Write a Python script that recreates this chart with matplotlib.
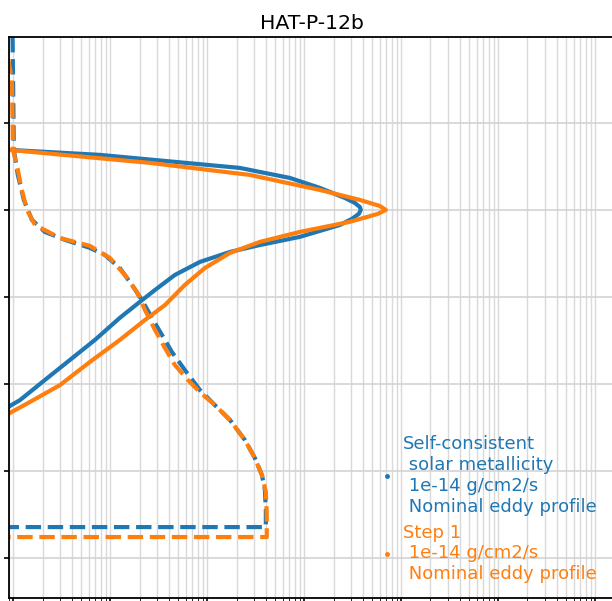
import numpy as np
import matplotlib
matplotlib.use("Agg")
import matplotlib.pyplot as plt
from matplotlib.lines import Line2D
from matplotlib.ticker import NullLocator

# haze profiles for HAT-P-12b, pressure in bar
# self-consistent, solar metallicity run
sc_prod = [0.90, 7.79, 216, 710, 1445, 2618, 3319, 3733, 3821, 3648, 3087, 2323, 899,
           348, 171, 83.7, 46.2, 28.8, 20.1, 12.5, 6.92, 3.82, 2.11, 1.17, 0.92, 0.81]
sc_prod_p = [2.04e-7, 2.33e-7, 3.29e-7, 4.29e-7, 5.58e-7, 7.28e-7, 8.31e-7, 9.24e-7,
             1.0e-6, 1.11e-6, 1.27e-6, 1.49e-6, 2.04e-6, 2.53e-6, 3.04e-6, 3.96e-6,
             5.59e-6, 8.32e-6, 1.14e-5, 1.74e-5, 3.12e-5, 5.30e-5, 9.0e-5, 1.53e-4,
             1.79e-4, 2.04e-4]
sc_num = [0.98, 1.01, 1.11, 1.28, 1.55, 2.11, 3.40, 6.15, 8.77, 12.5, 16.7, 21.1, 26.8,
          34.0, 43.1, 58.6, 83.7, 119, 171, 244, 309, 365, 392, 401, 401, 1e-3]
sc_num_p = [1.03e-8, 2.04e-7, 3.96e-7, 7.67e-7, 1.30e-6, 1.79e-6, 2.21e-6, 2.73e-6,
            3.29e-6, 4.65e-6, 7.28e-6, 1.08e-5, 1.74e-5, 2.73e-5, 4.29e-5, 6.91e-5,
            1.17e-4, 1.74e-4, 2.59e-4, 4.41e-4, 7.10e-4, 1.11e-3, 1.65e-3, 2.81e-3,
            4.41e-3, 4.41e-3]

# step 1 run
s1_prod = [0.90, 25.5, 274, 1445, 3733, 6000, 6920, 5728, 2944, 899, 348, 171, 94.2,
           58.6, 36.5, 22.7, 12.5, 6.15, 3.02, 1.48, 0.92, 0.80]
s1_prod_p = [2.04e-7, 2.88e-7, 3.96e-7, 5.89e-7, 7.67e-7, 9.0e-7, 1.0e-6, 1.11e-6,
             1.37e-6, 1.79e-6, 2.33e-6, 3.12e-6, 4.65e-6, 7.28e-6, 1.24e-5, 1.84e-5,
             3.12e-5, 5.58e-5, 1.03e-4, 1.61e-4, 2.15e-4, 2.33e-4]
s1_num = [0.80, 0.965, 0.99, 1.11, 1.22, 1.38, 1.67, 3.02, 6.15, 9.88, 14.1, 18.8, 22.7,
          28.8, 36.5, 46.2, 63.0, 83.7, 119, 171, 244, 309, 365, 401, 410, 410, 1e-3]
s1_num_p = [1.03e-8, 3.21e-8, 2.04e-7, 3.47e-7, 5.89e-7, 1.0e-6, 1.49e-6, 2.10e-6,
            2.59e-6, 3.56e-6, 5.59e-6, 8.77e-6, 1.41e-5, 2.39e-5, 3.86e-5, 6.05e-5,
            9.0e-5, 1.24e-4, 1.74e-4, 2.59e-4, 4.41e-4, 7.10e-4, 1.11e-3, 1.74e-3,
            3.21e-3, 5.74e-3, 5.74e-3]

labels = ["Self-consistent\n solar metallicity\n 1e-14 g/cm2/s\n Nominal eddy profile",
          "Step 1\n 1e-14 g/cm2/s\n Nominal eddy profile"]
colors = ["#1f77b4", "#ff7f0e"]

fig = plt.figure(figsize=(6.12, 6.01), dpi=100)
ax = fig.add_axes([9/612, 3/601, 606/612, 561/601])

lw = 3
ax.plot(sc_prod, sc_prod_p, color=colors[0], lw=lw)
ax.plot(sc_num, sc_num_p, color=colors[0], lw=lw, ls="--")
ax.plot(s1_prod, s1_prod_p, color=colors[1], lw=lw)
ax.plot(s1_num, s1_num_p, color=colors[1], lw=lw, ls="--")

ax.set_xscale("log")
ax.set_yscale("log")
ax.set_xlim(0.90, 1.60e6)
ax.set_ylim(2.88e-2, 1.03e-8)
ax.yaxis.set_minor_locator(NullLocator())

ax.grid(which="both", axis="x", color="#d9d9d9", lw=1.0)
ax.grid(which="major", axis="y", color="#d3d3d3", lw=1.2)
ax.tick_params(labelleft=False, labelbottom=False, width=1.2)
for sp in ax.spines.values():
    sp.set_linewidth(1.3)

ax.set_title("HAT-P-12b", fontsize=14.7)

handles = [Line2D([], [], marker="o", markersize=2.5, ls="none", color=c) for c in colors]
ax.legend(handles, labels, loc="upper left", bbox_to_anchor=(0.606, 0.288),
          bbox_transform=fig.transFigure, frameon=False, fontsize=13,
          labelcolor="linecolor", handlelength=1.0, handletextpad=0.4,
          labelspacing=0.45, borderaxespad=0)

fig.savefig("out.png", dpi=100)
